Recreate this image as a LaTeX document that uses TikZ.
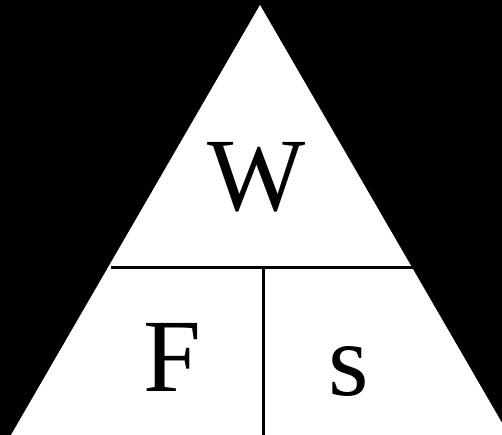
\documentclass[tikz,border=0pt]{standalone}
\usepackage{fontspec}
\setmainfont{Liberation Serif}
\begin{document}
\begin{tikzpicture}[x=1pt,y=1pt,
  divider/.style={line width=3pt},
  letter/.style={anchor=base, inner sep=0pt, font=\fontsize{104}{104}\selectfont}]
\useasboundingbox (0,0) rectangle (502,435);
\clip (0,0) rectangle (502,435);
\fill[black] (0,0) rectangle (502,435);
\coordinate (apex) at (260,430);
\coordinate (bl) at (11,0);
\coordinate (br) at (509,0);
\fill[white] (apex) -- (bl) -- (br) -- cycle;
\coordinate (hl) at (111,167);
\coordinate (hr) at (413,167);
\coordinate (vt) at (263,167);
\coordinate (vb) at (263,-2);
\draw[divider] (hl) -- (hr);
\draw[divider] (vt) -- (vb);
\node[letter] (W) at (257,224) {W};
\node[letter] (F) at (172,43) {F};
\node[letter] (s) at (349,39) {s};
\end{tikzpicture}
\end{document}
